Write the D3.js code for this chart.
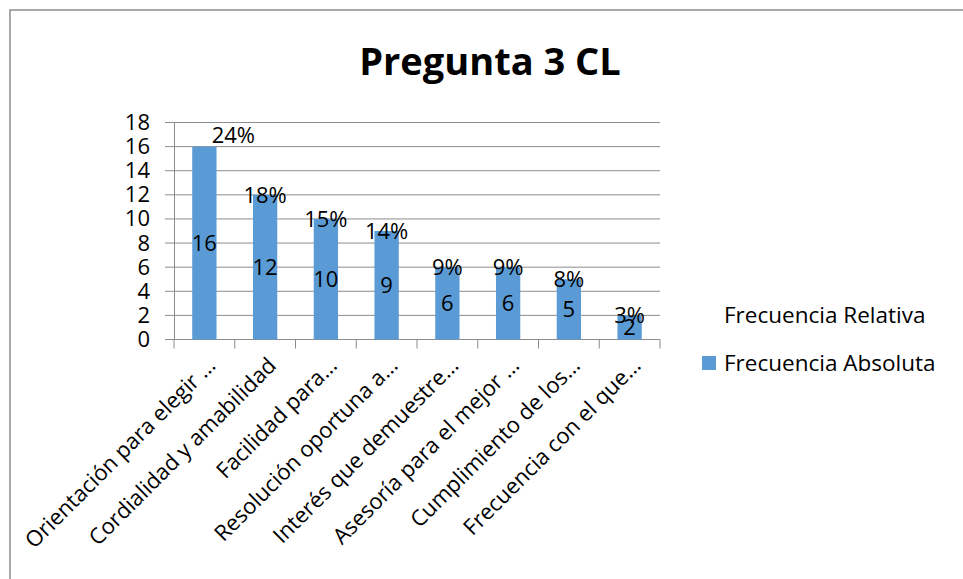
<!DOCTYPE html>
<html>
<head>
<meta charset="utf-8">
<script src="https://cdn.jsdelivr.net/npm/d3@7"></script>
<style>
  body { margin: 0; background: #fff; }
  text { font-family: "Open Sans", sans-serif; fill: #000; }
</style>
</head>
<body>
<div id="svg"></div>
<script>
// data
var categories = ["Orientación para elegir …", "Cordialidad y amabilidad", "Facilidad para…",
  "Resolución oportuna a…", "Interés que demuestre…", "Asesoría para el mejor …",
  "Cumplimiento de los…", "Frecuencia con el que…"];
var absoluta = [16, 12, 10, 9, 6, 6, 5, 2];
var relativa = ["24%", "18%", "15%", "14%", "9%", "9%", "8%", "3%"];
var yTicks = [0, 2, 4, 6, 8, 10, 12, 14, 16, 18];
var seriesNames = ["Frecuencia Relativa", "Frecuencia Absoluta"];

var W = 963, H = 579;
var margin = {top: 122.5, left: 174, right: 303, bottom: 239.5};
var width = W - margin.left - margin.right,
    height = H - margin.top - margin.bottom;

var svg = d3.select("#svg")
  .append("svg")
    .attr("width", W)
    .attr("height", H);

// chart border (runs past the window on right/bottom)
svg.append("rect")
  .attr("x", 10).attr("y", 10)
  .attr("width", W + 20).attr("height", H + 20)
  .style("fill", "none")
  .style("stroke", "#8c8c8c")
  .style("stroke-width", 1.5);

svg.append("text")
  .attr("x", 490)
  .attr("y", 75)
  .attr("text-anchor", "middle")
  .style("font-size", "38px")
  .style("font-weight", "bold")
  .text("Pregunta 3 CL");

var g = svg.append("g")
  .attr("transform", "translate(" + margin.left + "," + margin.top + ")");

var x = d3.scaleBand()
  .domain(categories)
  .range([0, width])
  .paddingInner(0.6)
  .paddingOuter(0.3);

var y = d3.scaleLinear()
  .domain([0, 18])
  .range([height, 0]);

// gridlines with outward ticks
g.append("g")
  .selectAll("line")
  .data(yTicks)
  .enter()
  .append("line")
    .attr("x1", -9)
    .attr("x2", width)
    .attr("y1", function(d) { return y(d); })
    .attr("y2", function(d) { return y(d); })
    .style("stroke", "#8c8c8c")
    .style("stroke-width", 1);

// y axis
var yAxis = g.append("g")
  .call(d3.axisLeft(y).tickValues(yTicks).tickSize(0).tickPadding(24));
yAxis.select(".domain").style("stroke", "#8c8c8c");
yAxis.selectAll("text")
  .style("font-size", "22px")
  .style("font-family", "'Open Sans', sans-serif")
  .attr("fill", "#000");

// x axis line and ticks at category boundaries
g.append("line")
  .attr("x1", 0).attr("x2", width)
  .attr("y1", height).attr("y2", height)
  .style("stroke", "#8c8c8c");
g.append("g")
  .selectAll("line")
  .data(d3.range(categories.length + 1))
  .enter()
  .append("line")
    .attr("x1", function(i) { return i * width / categories.length; })
    .attr("x2", function(i) { return i * width / categories.length; })
    .attr("y1", height)
    .attr("y2", height + 9)
    .style("stroke", "#8c8c8c");

// category labels
g.append("g")
  .selectAll("text")
  .data(categories)
  .enter()
  .append("text")
    .attr("transform", function(d) {
      return "translate(" + (x(d) + x.bandwidth() / 2 + 7) + "," + (height + 22) + ") rotate(-45)";
    })
    .attr("text-anchor", "end")
    .attr("dy", "0.35em")
    .style("font-size", "22px")
    .text(function(d) { return d; });

// bars
g.append("g")
  .selectAll("rect")
  .data(absoluta)
  .enter()
  .append("rect")
    .attr("x", function(d, i) { return x(categories[i]); })
    .attr("y", function(d) { return y(d); })
    .attr("width", x.bandwidth())
    .attr("height", function(d) { return height - y(d); })
    .style("fill", "#5b9bd5");

// value labels inside bars
g.append("g")
  .selectAll("text")
  .data(absoluta)
  .enter()
  .append("text")
    .attr("x", function(d, i) { return x(categories[i]) + x.bandwidth() / 2; })
    .attr("y", function(d) { return (y(d) + height) / 2; })
    .attr("dy", "0.35em")
    .attr("text-anchor", "middle")
    .style("font-size", "22px")
    .text(function(d) { return d; });

// percent labels at bar tops (first one was nudged in the original)
var nudge = [29, -11];
g.append("g")
  .selectAll("text")
  .data(relativa)
  .enter()
  .append("text")
    .attr("x", function(d, i) { return x(categories[i]) + x.bandwidth() / 2 + (i == 0 ? nudge[0] : 0); })
    .attr("y", function(d, i) { return y(absoluta[i]) + (i == 0 ? nudge[1] : 0); })
    .attr("dy", "0.35em")
    .attr("text-anchor", "middle")
    .style("font-size", "22px")
    .text(function(d) { return d; });

// legend
var legend = svg.append("g").attr("transform", "translate(702,0)");
legend.append("text")
  .attr("x", 22).attr("y", 323)
  .style("font-size", "22.5px")
  .text(seriesNames[0]);
legend.append("rect")
  .attr("x", 0).attr("y", 356)
  .attr("width", 14).attr("height", 14)
  .style("fill", "#5b9bd5");
legend.append("text")
  .attr("x", 22).attr("y", 371)
  .style("font-size", "22.5px")
  .text(seriesNames[1]);
</script>
</body>
</html>
